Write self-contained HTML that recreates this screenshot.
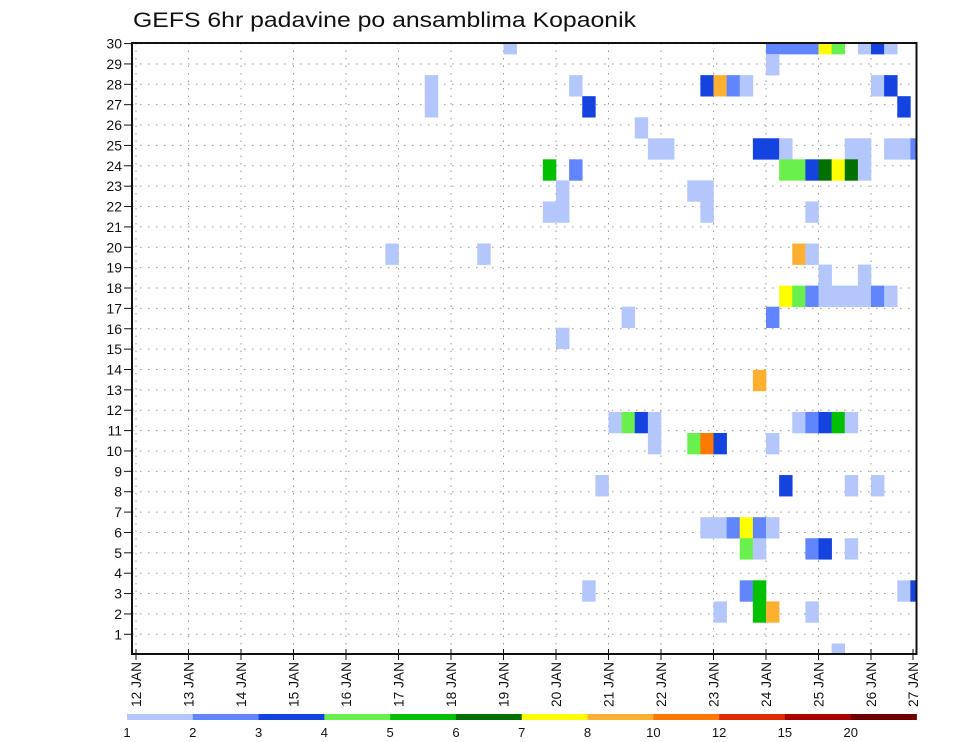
<!DOCTYPE html>
<html><head><meta charset="utf-8"><style>
html,body{margin:0;padding:0;background:#fff;}
svg{display:block;font-family:"Liberation Sans",sans-serif;}
</style></head><body>
<svg id="chart" width="960" height="742" viewBox="0 0 960 742">
<text x="133" y="27" font-size="21" textLength="503" lengthAdjust="spacingAndGlyphs" fill="#111">GEFS 6hr padavine po ansamblima Kopaonik</text>
<g id="grid"></g>
<g id="cells"></g>
<g id="axes"></g>
<g id="legend"></g>
</svg>
<script>
// ---- data ----
const dayLabels = ["12 JAN","13 JAN","14 JAN","15 JAN","16 JAN","17 JAN","18 JAN","19 JAN","20 JAN","21 JAN","22 JAN","23 JAN","24 JAN","25 JAN","26 JAN","27 JAN"];
const memberLabels = [1,2,3,4,5,6,7,8,9,10,11,12,13,14,15,16,17,18,19,20,21,22,23,24,25,26,27,28,29,30];
const levels = [1,2,3,4,5,6,7,8,10,12,15,20];
const levelColors = ["#b3c7fc","#6085ff","#1443e0","#6af04c","#00c000","#007000","#ffff00","#ffb030","#ff7800","#e02a00","#a80000","#700000"];
// each cell: member, 6-hour step index from 12 JAN 00Z, precip mm
const cellMembers = [30,30,30,30,30,30,30,30,30,30, 29, 28,28,28,28,28,28,28,28, 27,27,27, 26,
 25,25,25,25,25,25,25,25,25,25, 24,24,24,24,24,24,24,24,24, 23,23,23, 22,22,22,22, 20,20,20,20, 19,19,
 18,18,18,18,18,18,18,18,18, 17,17, 16, 14, 12,12,12,12,12,12,12,12,12, 11,11,11,11,11,
 9,9,9,9, 7,7,7,7,7,7, 6,6,6,6,6, 4,4,4,4,4, 3,3,3,3, 1];
const cellSteps = [28,48,49,50,51,52,53,55,56,57, 48, 22,33,43,44,45,46,56,57, 22,34,58, 38,
 39,40,47,48,49,54,55,57,58,59, 31,33,49,50,51,52,53,54,55, 32,42,43, 31,32,43,51, 19,26,50,51, 52,55,
 49,50,51,52,53,54,55,56,57, 37,48, 32, 47, 36,37,38,39,50,51,52,53,54, 39,42,43,44,48,
 35,49,54,56, 43,44,45,46,47,48, 46,47,51,52,54, 34,46,47,58,59, 44,47,48,51, 53];
const cellValues = [1.5,2.5,2.5,2.5,2.5,7.5,4.5,1.5,3.5,1.5, 1.5, 1.5,1.5,3.5,9,2.5,1.5,1.5,3.5, 1.5,3.5,3.5, 1.5,
 1.5,1.5,3.5,3.5,1.5,1.5,1.5,1.5,1.5,2.5, 5.5,2.5,4.5,4.5,3.5,6.5,7.5,6.5,1.5, 1.5,1.5,1.5, 1.5,1.5,1.5,1.5, 1.5,1.5,9,1.5, 1.5,1.5,
 7.5,4.5,2.5,1.5,1.5,1.5,1.5,2.5,1.5, 1.5,2.5, 1.5, 9, 1.5,4.5,3.5,1.5,1.5,2.5,3.5,5.5,1.5, 1.5,4.5,11,3.5,1.5,
 1.5,3.5,1.5,1.5, 1.5,1.5,2.5,7.5,2.5,1.5, 4.5,1.5,2.5,3.5,1.5, 1.5,2.5,5.5,1.5,3.5, 1.5,5.5,9,1.5, 1.5];

// ---- geometry ----
const NS="http://www.w3.org/2000/svg";
const L=132,R=916.5,T=43,B=654;
const x0=136, dayW=52.5, stepW=dayW/4;
function xStep(i){return x0+i*stepW;}
function xDay(d){return x0+d*dayW;}
function yAxis(m){return 634.3-(m-1)*20.37;}
const cellH=21.05;
function yCellCenter(m){return 654-(m-1)*cellH;}
function colorFor(v){let c=levelColors[0];for(let k=0;k<levels.length;k++){if(v>=levels[k])c=levelColors[k];}return c;}
function mk(tag,attrs,parent){const e=document.createElementNS(NS,tag);for(const k in attrs)e.setAttribute(k,attrs[k]);parent.appendChild(e);return e;}

const grid=document.getElementById('grid');
memberLabels.forEach(m=>{
  const l=mk('line',{x1:L,x2:R,y1:yAxis(m),y2:yAxis(m),stroke:'#999','stroke-width':1,'stroke-dasharray':'1.5,6.5'},grid);
  
  
});
dayLabels.forEach((d,k)=>{
  const x=xDay(k); if(x>R)return;
  const l=mk('line',{x1:x,x2:x,y1:T,y2:B,stroke:'#999','stroke-width':1,'stroke-dasharray':'1.5,6'},grid);
  
  
});

const cells=document.getElementById('cells');
mk('clipPath',{id:'clip'},cells).appendChild((()=>{const r=document.createElementNS(NS,'rect');r.setAttribute('x',L);r.setAttribute('y',T);r.setAttribute('width',R-L);r.setAttribute('height',B-T);return r;})());
const cg=mk('g',{'clip-path':'url(#clip)'},cells);
for(let n=0;n<cellMembers.length;n++){
  const m=cellMembers[n],i=cellSteps[n],v=cellValues[n];
  const r=mk('rect',{x:xStep(i),y:yCellCenter(m)-cellH/2,width:stepW+0.3,height:cellH+0.3,fill:colorFor(v)},cg);
  
  
}

const axes=document.getElementById('axes');
const fr=mk('rect',{x:L,y:T,width:R-L,height:B-T,fill:'none',stroke:'#111','stroke-width':2},axes);


memberLabels.forEach(m=>{
  const y=yAxis(m);
  mk('line',{x1:124,x2:L,y1:y,y2:y,stroke:'#111','stroke-width':1},axes);
  const t=mk('text',{x:122,y:y+5,'font-size':14,'text-anchor':'end',fill:'#111'},axes);
  t.textContent=m;
  
  
});
dayLabels.forEach((d,k)=>{
  let x=xDay(k); if(x>R)x=913;
  mk('line',{x1:x,x2:x,y1:B-5,y2:B+6,stroke:'#111','stroke-width':1},axes);
  const t=mk('text',{transform:`translate(${x+5},707) rotate(-90)`,'font-size':14,fill:'#111',textLength:45,lengthAdjust:'spacingAndGlyphs'},axes);
  t.textContent=d;
  
  
});

const lg=document.getElementById('legend');
const cbL=127,cbR=916.5,segW=(cbR-cbL)/levelColors.length;
levelColors.forEach((c,k)=>{
  const r=mk('rect',{x:cbL+k*segW,y:714,width:segW+0.4,height:6,fill:c},lg);
  
  
  const t=mk('text',{x:cbL+k*segW,y:737,'font-size':13,'text-anchor':'middle',fill:'#111'},lg);
  t.textContent=levels[k];
  
  
});
</script>
</body></html>
